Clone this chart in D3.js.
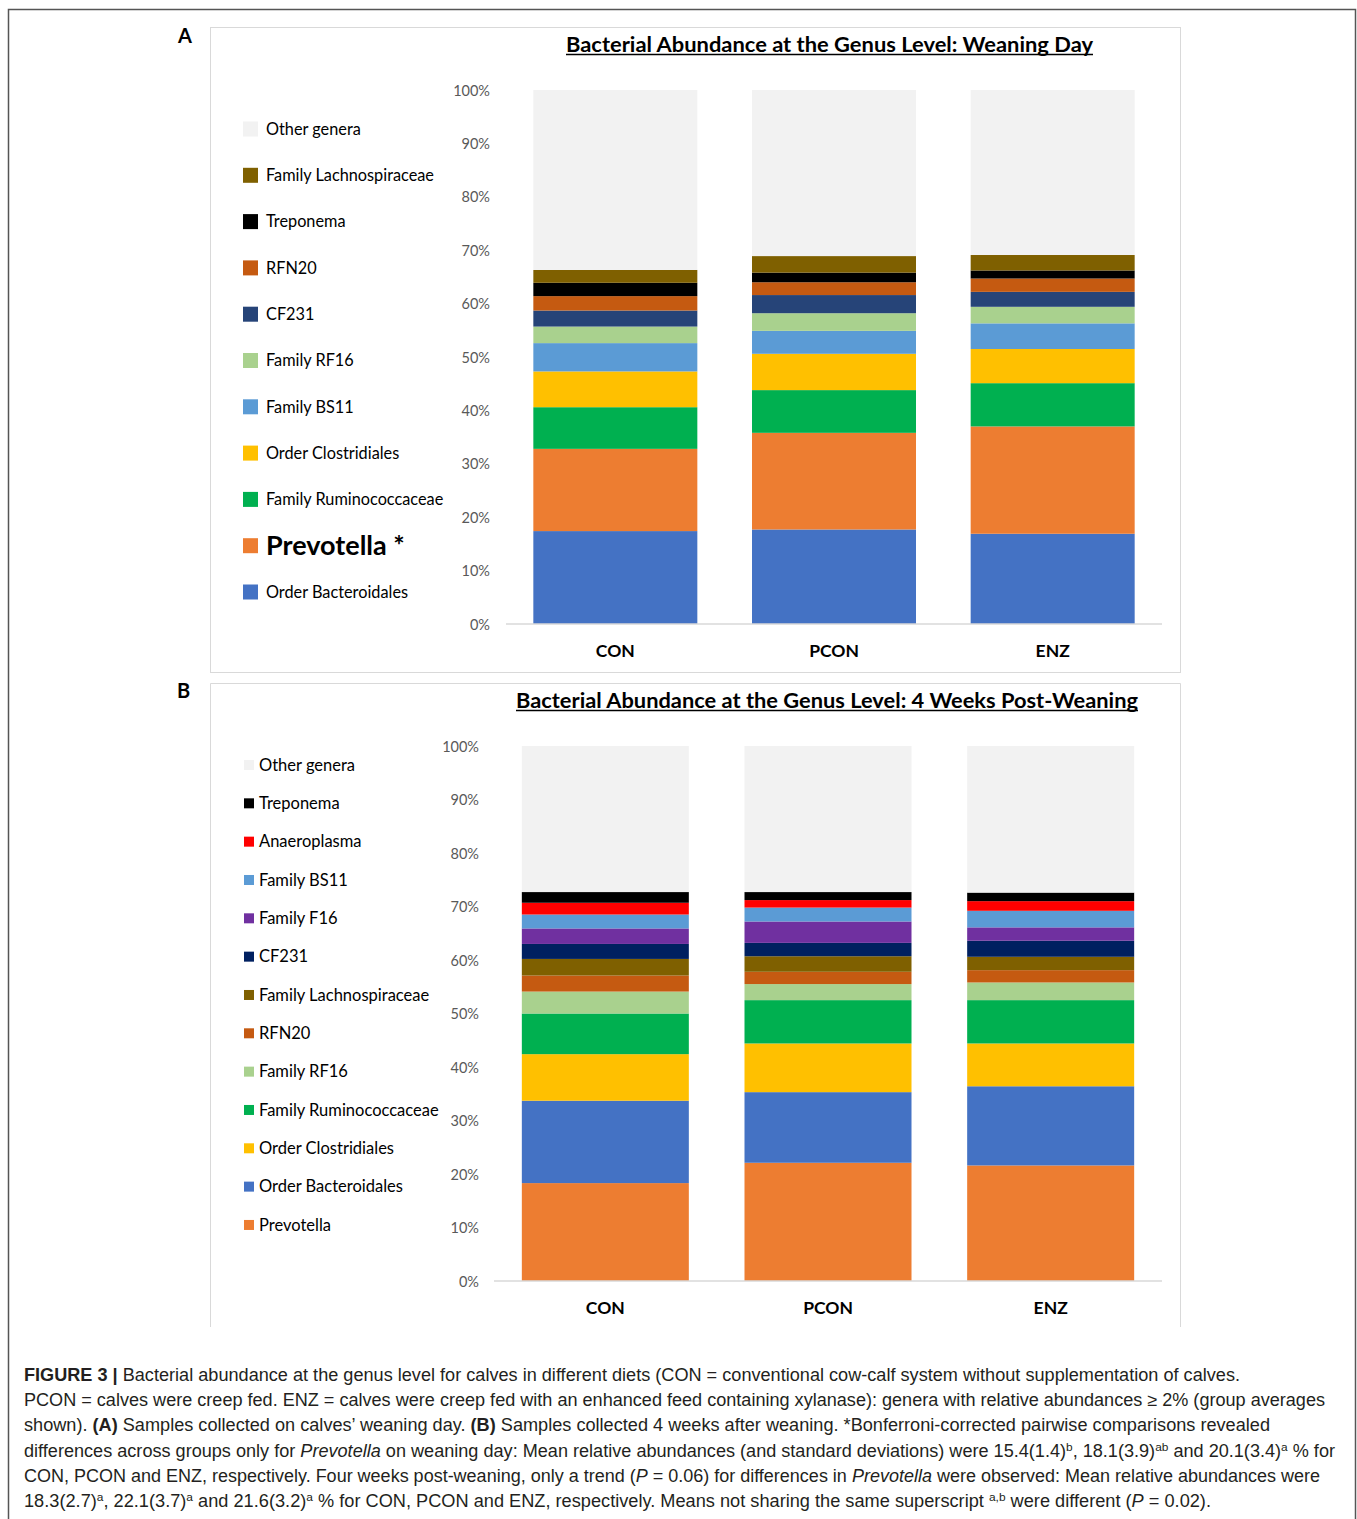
<!DOCTYPE html>
<html>
<head>
<meta charset="utf-8">
<script src="https://cdn.jsdelivr.net/npm/d3@7"></script>
<style>
  html, body { margin: 0; padding: 0; background: #fff; }
  svg { display: block; }
  .chart-font { font-family: Lato, "Open Sans", "Noto Sans", sans-serif; }
  .cap { font-family: "Liberation Sans", Arial, sans-serif; }
</style>
</head>
<body>
<svg id="fig" width="1357" height="1519"></svg>
<script>
// ---- Data ----
const groups = ["CON", "PCON", "ENZ"];
const yTicks = [0, 10, 20, 30, 40, 50, 60, 70, 80, 90, 100];

// Panel A: weaning day, taxa listed from bottom of the stack to the top
const taxaA = ["Order Bacteroidales", "Prevotella", "Family Ruminococcaceae", "Order Clostridiales",
  "Family BS11", "Family RF16", "CF231", "RFN20", "Treponema", "Family Lachnospiraceae", "Other genera"];
const conA  = [17.4, 15.4, 7.8, 6.7, 5.3, 3.1, 3.0, 2.7, 2.5, 2.4, 33.7];
const pconA = [17.7, 18.1, 8.0, 6.8, 4.3, 3.3, 3.4, 2.4, 1.8, 3.1, 31.1];
const enzA  = [16.9, 20.1, 8.1, 6.4, 4.8, 3.1, 2.8, 2.5, 1.5, 2.9, 30.9];
const colorsA = ["#4472C4", "#ED7D31", "#00B050", "#FFC000", "#5B9BD5", "#A9D18E",
  "#264478", "#C55A11", "#000000", "#7F6000", "#F2F2F2"];

// Panel B: 4 weeks post-weaning
const taxaB = ["Prevotella", "Order Bacteroidales", "Order Clostridiales", "Family Ruminococcaceae",
  "Family RF16", "RFN20", "Family Lachnospiraceae", "CF231", "Family F16", "Family BS11",
  "Anaeroplasma", "Treponema", "Other genera"];
const conB  = [18.3, 15.4, 8.7, 7.6, 4.1, 3.0, 3.1, 2.8, 2.9, 2.6, 2.2, 2.0, 27.3];
const pconB = [22.1, 13.2, 9.1, 8.1, 3.0, 2.3, 2.9, 2.5, 4.0, 2.6, 1.4, 1.5, 27.3];
const enzB  = [21.6, 14.8, 8.0, 8.1, 3.3, 2.3, 2.5, 3.0, 2.5, 3.1, 1.8, 1.6, 27.4];
const colorsB = ["#ED7D31", "#4472C4", "#FFC000", "#00B050", "#A9D18E", "#C55A11",
  "#7F6000", "#002060", "#7030A0", "#5B9BD5", "#FF0000", "#000000", "#F2F2F2"];

const titleA = "Bacterial Abundance at the Genus Level: Weaning Day";
const titleB = "Bacterial Abundance at the Genus Level: 4 Weeks Post-Weaning";

// ---- Drawing ----
const svg = d3.select("#fig");

// outer figure frame
svg.append("rect").attr("x", 8.5).attr("y", 9.5).attr("width", 1347).attr("height", 1530)
  .attr("fill", "none").attr("stroke", "#555").attr("stroke-width", 1.5);

function rows(taxa, seriesList) {
  return groups.map((g, gi) => {
    const r = { group: g };
    taxa.forEach((t, ti) => { r[t] = seriesList[gi][ti]; });
    return r;
  });
}

function drawPanel(cfg) {
  const g = svg.append("g");

  // panel frame
  const fr = cfg.frame;
  if (cfg.closedFrame) {
    g.append("rect").attr("x", fr.x + 0.5).attr("y", fr.y + 0.5).attr("width", fr.w).attr("height", fr.h)
      .attr("fill", "none").attr("stroke", "#d9d9d9").attr("stroke-width", 1);
  } else {
    g.append("path")
      .attr("d", `M${fr.x + 0.5},${fr.y + fr.h}V${fr.y + 0.5}H${fr.x + fr.w + 0.5}V${fr.y + fr.h}`)
      .attr("fill", "none").attr("stroke", "#d9d9d9").attr("stroke-width", 1);
  }

  // panel letter
  g.append("text").attr("class", "chart-font").attr("x", cfg.letterX).attr("y", cfg.letterY)
    .attr("font-size", 20).attr("font-weight", 700).attr("fill", "#000").text(cfg.letter);

  // title with underline
  g.append("text").attr("class", "chart-font")
    .attr("x", cfg.titleX).attr("y", cfg.titleY)
    .attr("font-size", 20).attr("font-weight", 700).attr("fill", "#000")
    .attr("textLength", cfg.titleW).attr("lengthAdjust", "spacingAndGlyphs")
    .text(cfg.title);
  g.append("line").attr("x1", cfg.titleX).attr("x2", cfg.titleX + cfg.titleW)
    .attr("y1", cfg.titleY + 2.5).attr("y2", cfg.titleY + 2.5)
    .attr("stroke", "#000").attr("stroke-width", 1.4);

  const x = d3.scaleBand().domain(groups).range(cfg.xRange).paddingInner(0.25).paddingOuter(0.125);
  const y = d3.scaleLinear().domain([0, 100]).range(cfg.yRange);

  const data = rows(cfg.taxa, cfg.series);
  const stacked = d3.stack().keys(cfg.taxa)(data);
  const color = d3.scaleOrdinal().domain(cfg.taxa).range(cfg.colors);

  // y axis labels (no axis line)
  const yAxis = d3.axisLeft(y).tickValues(yTicks).tickSize(0).tickPadding(0)
    .tickFormat(d => d + "%");
  const ya = g.append("g").attr("transform", `translate(${cfg.yLabelX},0)`).call(yAxis);
  ya.select(".domain").remove();
  ya.selectAll("text").attr("class", "chart-font").attr("font-size", 14.5).attr("fill", "#595959")
    .attr("dy", "0.35em");

  // bars
  g.append("g").selectAll("g").data(stacked).join("g")
    .attr("fill", d => color(d.key))
    .selectAll("rect").data(d => d).join("rect")
    .attr("x", d => x(d.data.group))
    .attr("width", x.bandwidth())
    .attr("y", d => y(d[1]))
    .attr("height", d => y(d[0]) - y(d[1]));

  // baseline axis
  const xa = g.append("g").attr("transform", `translate(0,${cfg.yRange[0]})`)
    .call(d3.axisBottom(x).tickSize(0).tickPadding(0));
  xa.select(".domain").attr("stroke", "#d9d9d9").attr("stroke-width", 1.5)
    .attr("d", `M${cfg.xRange[0]},0H${cfg.xRange[1]}`);
  xa.selectAll("text").attr("class", "chart-font").attr("font-size", 17.5).attr("font-weight", 700)
    .attr("fill", "#000").attr("dy", 0).attr("y", cfg.catDy);

  // legend, drawn from the top of the stack downward
  const legendItems = cfg.taxa.slice().reverse();
  const lg = g.append("g");
  legendItems.forEach((t, i) => {
    const cy = cfg.legend.y0 + i * cfg.legend.step;
    const sw = cfg.legend.sw;
    lg.append("rect").attr("x", cfg.legend.x).attr("y", cy - sw / 2)
      .attr("width", sw).attr("height", sw).attr("fill", color(t));
    const big = cfg.emphasis && t === cfg.emphasis;
    lg.append("text").attr("class", "chart-font")
      .attr("x", cfg.legend.tx).attr("y", cy).attr("dy", "0.35em")
      .attr("font-size", big ? 27 : cfg.legend.fs).attr("font-weight", big ? 700 : 400)
      .attr("fill", "#000")
      .text(big ? t + " *" : t);
  });
}

drawPanel({
  letter: "A", letterX: 178, letterY: 43,
  frame: { x: 210, y: 27, w: 970, h: 645 }, closedFrame: true,
  title: titleA, titleX: 566, titleY: 52, titleW: 527,
  xRange: [506, 1162], yRange: [624, 90], yLabelX: 490, catDy: 33,
  taxa: taxaA, series: [conA, pconA, enzA], colors: colorsA,
  legend: { x: 243, tx: 266, y0: 129, step: 46.3, sw: 15, fs: 16.3 },
  emphasis: "Prevotella"
});

drawPanel({
  letter: "B", letterX: 177, letterY: 698,
  frame: { x: 210, y: 683, w: 970, h: 644 }, closedFrame: false,
  title: titleB, titleX: 516, titleY: 708, titleW: 622,
  xRange: [494, 1162], yRange: [1281, 746], yLabelX: 479, catDy: 33,
  taxa: taxaB, series: [conB, pconB, enzB], colors: colorsB,
  legend: { x: 244, tx: 259, y0: 765, step: 38.33, sw: 10, fs: 16.5 },
  emphasis: null
});

// ---- Caption ----
const capLines = [
  [["FIGURE 3 | ", "b"], ["Bacterial abundance at the genus level for calves in different diets (CON = conventional cow-calf system without supplementation of calves."]],
  [["PCON = calves were creep fed. ENZ = calves were creep fed with an enhanced feed containing xylanase): genera with relative abundances \u2265 2% (group averages"]],
  [["shown). "], ["(A)", "b"], [" Samples collected on calves\u2019 weaning day. "], ["(B)", "b"], [" Samples collected 4 weeks after weaning. *Bonferroni-corrected pairwise comparisons revealed"]],
  [["differences across groups only for "], ["Prevotella", "i"], [" on weaning day: Mean relative abundances (and standard deviations) were 15.4(1.4)"], ["b", "s"], [", 18.1(3.9)"], ["ab", "s"], [" and 20.1(3.4)"], ["a", "s"], [" % for"]],
  [["CON, PCON and ENZ, respectively. Four weeks post-weaning, only a trend ("], ["P", "i"], [" = 0.06) for differences in "], ["Prevotella", "i"], [" were observed: Mean relative abundances were"]],
  [["18.3(2.7)"], ["a", "s"], [", 22.1(3.7)"], ["a", "s"], [" and 21.6(3.2)"], ["a", "s"], [" % for CON, PCON and ENZ, respectively. Means not sharing the same superscript "], ["a,b", "s"], [" were different ("], ["P", "i"], [" = 0.02)."]]
];
const capWidths = [1216, 1301, 1246, 1311, 1296, 1187];
const cap = svg.append("g").attr("class", "cap");
capLines.forEach((parts, li) => {
  const t = cap.append("text").attr("x", 24).attr("y", 1381 + li * 25.2)
    .attr("font-size", 17.5).attr("fill", "#231f20")
    .attr("textLength", capWidths[li]).attr("lengthAdjust", "spacingAndGlyphs");
  parts.forEach(([s, st]) => {
    const ts = t.append("tspan").text(s);
    if (st === "b") ts.attr("font-weight", 700);
    if (st === "i") ts.attr("font-style", "italic");
    if (st === "s") ts.attr("font-size", 11.5).attr("baseline-shift", "super");
  });
});
</script>
</body>
</html>
